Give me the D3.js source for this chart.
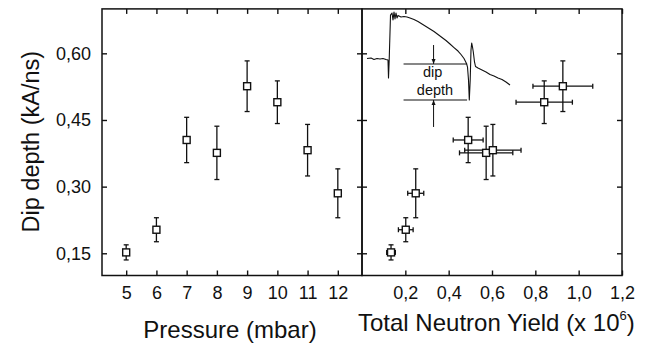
<!DOCTYPE html>
<html>
<script src="https://d3js.org/d3.v7.min.js"></script>

<head>
    <style>
        body {
            margin: 0;
            background-color: #fff;
            font-family: "Liberation Sans", Arial, Helvetica, sans-serif;
        }
    </style>
</head>

<body>
</body>
<script>
    const width = 648,
        height = 345;

    // data, ordered by pressure
    const pressure = [5, 6, 7, 8, 9, 10, 11, 12];
    const dipDepth = [0.152, 0.203, 0.405, 0.376, 0.526, 0.490, 0.382, 0.285];
    const dipErr = [0.017, 0.027, 0.051, 0.060, 0.057, 0.048, 0.058, 0.055];
    const neutronYield = [0.134, 0.202, 0.490, 0.573, 0.927, 0.841, 0.604, 0.248];
    const yieldErr = [0.020, 0.034, 0.069, 0.123, 0.138, 0.130, 0.130, 0.037];

    const pressureTicks = [5, 6, 7, 8, 9, 10, 11, 12];
    const yieldTicks = [0.2, 0.4, 0.6, 0.8, 1.0, 1.2];
    const dipTicks = [0.15, 0.30, 0.45, 0.60];

    // inset: current trace (time in ns, normalised current)
    const traceTime = [0.7, 3.45, 5.52, 7.59, 9.66, 11.72, 13.79, 15.17, 15.52, 16.0, 16.9, 17.93, 18.62, 19.31,
        20.0, 20.69, 21.38, 22.07, 24.14, 26.21, 28.28, 30.34, 33.1, 35.86, 38.62, 41.38, 44.14, 46.9, 49.66,
        52.41, 55.17, 57.93, 60.69, 63.45, 65.52, 67.59, 69.31, 70.0, 70.69, 71.24, 71.86, 72.41, 72.9, 73.45,
        74.0, 74.83, 75.52, 77.24, 80.0, 82.76, 85.52, 88.28, 91.03, 93.79, 96.55, 99.31];
    const traceCurrent = [0.477, 0.483, 0.466, 0.477, 0.471, 0.477, 0.466, 0.460, 0.253, 0.460, 0.977, 1.0, 0.920,
        1.011, 0.931, 1.0, 0.943, 0.971, 0.954, 0.960, 0.954, 0.943, 0.925, 0.902, 0.874, 0.845, 0.816, 0.787,
        0.753, 0.718, 0.684, 0.644, 0.603, 0.563, 0.523, 0.477, 0.420, 0.379, 0.230, 0.0, 0.230, 0.575, 0.655,
        0.609, 0.552, 0.437, 0.385, 0.368, 0.345, 0.322, 0.293, 0.276, 0.253, 0.236, 0.207, 0.172];
    const dipTop = 0.414,
        dipBottom = 0.0,
        dipStart = 25.9,
        dipEnd = 69.7,
        dipArrowT = 46.6;

    const points = pressure.map((p, i) => ({
        p: p, dip: dipDepth[i], de: dipErr[i], n: neutronYield[i], ne: yieldErr[i]
    }));

    const svg = d3.select("body").append("svg").attr("width", width).attr("height", height);
    const ink = "#111";
    const fmtComma = f => d => d3.format(f)(d).replace(".", ",");

    const plotTop = 8.9, plotBottom = 275.5, leftX0 = 102, midX = 362, rightX1 = 622;

    const y = d3.scaleLinear().domain([0.1, 0.7]).range([plotBottom, plotTop]);
    const xP = d3.scaleLinear().domain([4.2, 12.8]).range([leftX0, midX]);
    const xN = d3.scaleLinear().domain([0, 1.2]).range([midX, rightX1]);

    function styleAxis(g, labels) {
        g.select(".domain").remove();
        g.selectAll(".tick line").attr("stroke", ink).attr("stroke-width", 1.4);
        g.selectAll(".tick text")
            .attr("fill", ink)
            .attr("font-size", "18px")
            .attr("font-family", "'Liberation Sans', Arial, sans-serif");
        if (!labels) g.selectAll(".tick text").remove();
    }

    // left panel axes
    svg.append("g").attr("transform", `translate(0,${plotBottom})`)
        .call(d3.axisBottom(xP).tickValues(pressureTicks).tickSize(-5).tickPadding(11))
        .call(g => styleAxis(g, true));
    svg.append("g").attr("transform", `translate(0,${plotTop})`)
        .call(d3.axisTop(xP).tickValues(pressureTicks).tickSize(-5))
        .call(g => styleAxis(g, false));
    svg.append("g").attr("transform", `translate(${leftX0},0)`)
        .call(d3.axisLeft(y).tickValues(dipTicks).tickSize(-5).tickPadding(11).tickFormat(fmtComma(".2f")))
        .call(g => styleAxis(g, true));
    svg.append("g").attr("transform", `translate(${midX},0)`)
        .call(d3.axisRight(y).tickValues(dipTicks).tickSize(-5))
        .call(g => styleAxis(g, false));

    // right panel axes
    svg.append("g").attr("transform", `translate(0,${plotBottom})`)
        .call(d3.axisBottom(xN).tickValues(yieldTicks).tickSize(-5).tickPadding(11).tickFormat(fmtComma(".1f")))
        .call(g => styleAxis(g, true));
    svg.append("g").attr("transform", `translate(0,${plotTop})`)
        .call(d3.axisTop(xN).tickValues(yieldTicks).tickSize(-5))
        .call(g => styleAxis(g, false));
    svg.append("g").attr("transform", `translate(${midX},0)`)
        .call(d3.axisLeft(y).tickValues(dipTicks).tickSize(-5))
        .call(g => styleAxis(g, false));
    svg.append("g").attr("transform", `translate(${rightX1},0)`)
        .call(d3.axisRight(y).tickValues(dipTicks).tickSize(-5))
        .call(g => styleAxis(g, false));

    // frames
    [[leftX0, midX], [midX, rightX1]].forEach(([a, b]) => {
        svg.append("rect")
            .attr("x", a).attr("y", plotTop)
            .attr("width", b - a).attr("height", plotBottom - plotTop)
            .attr("fill", "none").attr("stroke", ink).attr("stroke-width", 1.5);
    });

    // inset trace
    const tx = d3.scaleLinear().domain([0, 100]).range([366, 511]);
    const ty = d3.scaleLinear().domain([0, 1]).range([100, 13]);
    const trace = traceTime.map((t, i) => [t, traceCurrent[i]]);
    const inset = svg.append("g");
    inset.append("path")
        .attr("d", d3.line().x(d => tx(d[0])).y(d => ty(d[1]))(trace))
        .attr("fill", "none").attr("stroke", ink).attr("stroke-width", 1.1)
        .attr("stroke-linejoin", "round");
    [dipTop, dipBottom].forEach(v => {
        inset.append("line")
            .attr("x1", tx(dipStart)).attr("x2", tx(dipEnd))
            .attr("y1", ty(v)).attr("y2", ty(v))
            .attr("stroke", ink).attr("stroke-width", 1.1);
    });
    function arrow(from, to) {
        const ax = tx(dipArrowT), y0 = ty(from), y1 = ty(to), dir = Math.sign(y1 - y0);
        inset.append("line")
            .attr("x1", ax).attr("x2", ax).attr("y1", y0).attr("y2", y1)
            .attr("stroke", ink).attr("stroke-width", 1);
        inset.append("path")
            .attr("d", `M${ax - 2},${y1 - dir * 5}L${ax},${y1}L${ax + 2},${y1 - dir * 5}Z`)
            .attr("fill", ink);
    }
    arrow(0.632, dipTop);
    arrow(-0.31, dipBottom);
    inset.append("text")
        .attr("x", tx(46)).attr("y", ty(0.264))
        .attr("text-anchor", "middle").attr("font-size", "14.5px").attr("fill", ink)
        .text("dip");
    inset.append("text")
        .attr("x", tx(47.6)).attr("y", ty(0.052))
        .attr("text-anchor", "middle").attr("font-size", "14.5px").attr("fill", ink)
        .text("depth");

    // error bars + markers
    const cap = 2.5, sq = 7;
    function drawPoints(xs, xKey, xErrKey) {
        const g = svg.append("g").attr("stroke", ink).attr("stroke-width", 1.3);
        points.forEach(d => {
            const cx = xs(d[xKey]), cy = y(d.dip);
            const y0 = y(d.dip - d.de), y1 = y(d.dip + d.de);
            g.append("line").attr("x1", cx).attr("x2", cx).attr("y1", y0).attr("y2", y1);
            g.append("line").attr("x1", cx - cap).attr("x2", cx + cap).attr("y1", y0).attr("y2", y0);
            g.append("line").attr("x1", cx - cap).attr("x2", cx + cap).attr("y1", y1).attr("y2", y1);
            if (xErrKey) {
                const x0 = xs(d[xKey] - d[xErrKey]), x1 = xs(d[xKey] + d[xErrKey]);
                g.append("line").attr("x1", x0).attr("x2", x1).attr("y1", cy).attr("y2", cy);
                g.append("line").attr("x1", x0).attr("x2", x0).attr("y1", cy - cap).attr("y2", cy + cap);
                g.append("line").attr("x1", x1).attr("x2", x1).attr("y1", cy - cap).attr("y2", cy + cap);
            }
        });
        g.selectAll("rect.m")
            .data(points)
            .enter()
            .append("rect")
            .attr("class", "m")
            .attr("x", d => xs(d[xKey]) - sq / 2)
            .attr("y", d => y(d.dip) - sq / 2)
            .attr("width", sq).attr("height", sq)
            .attr("fill", "#fff").attr("stroke-width", 1.4);
    }
    drawPoints(xP, "p", null);
    drawPoints(xN, "n", "ne");

    // axis titles
    svg.append("text")
        .attr("transform", "translate(39,141.7) rotate(-90)")
        .attr("text-anchor", "middle")
        .attr("font-size", "23.5px").attr("fill", ink)
        .text("Dip depth (kA/ns)");
    svg.append("text")
        .attr("x", 230).attr("y", 338)
        .attr("text-anchor", "middle")
        .attr("font-size", "24px").attr("fill", ink)
        .text("Pressure (mbar)");
    const t2 = svg.append("text")
        .attr("x", 358).attr("y", 330.7)
        .attr("font-size", "24px").attr("fill", ink);
    t2.append("tspan").text("Total Neutron Yield (x 10");
    t2.append("tspan").attr("font-size", "13px").attr("dy", -11).text("6");
    t2.append("tspan").attr("dy", 11).text(")");
</script>

</html>
